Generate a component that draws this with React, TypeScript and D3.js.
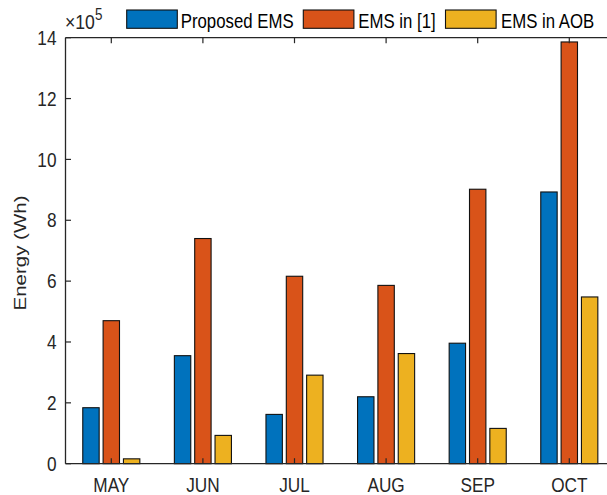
import React from "react";
import * as d3 from "d3";

const categories = ["MAY", "JUN", "JUL", "AUG", "SEP", "OCT"];
const seriesNames = ["Proposed EMS", "EMS in [1]", "EMS in AOB"];
const proposedEMS = [1.84, 3.55, 1.62, 2.2, 3.96, 8.93];
const emsRef1 = [4.7, 7.4, 6.16, 5.86, 9.02, 13.86];
const emsAOB = [0.16, 0.93, 2.91, 3.62, 1.16, 5.48];
const yTicks = [0, 2, 4, 6, 8, 10, 12, 14];
const colors = ["#0072BD", "#D95319", "#EDB120"];

const W = 607;
const H = 495;
const SX = 0.84;
const FONT = "'Liberation Sans', Arial, Helvetica, sans-serif";
const TXT = "#262626";

export default function App() {
  const series = [proposedEMS, emsRef1, emsAOB];
  const x = d3.scaleLinear().domain([0.5, 6.5]).range([65.5, 615.1]);
  const y = d3.scaleLinear().domain([0, 14]).range([463.7, 37.7]);
  const pitch = 0.222;
  const bw = 0.179;
  const left = x(0.5);
  const right = W;
  const top = y(14);
  const bottom = y(0);
  const tickLen = 5.5;

  const legendBoxX = [126.7, 303.3, 445.5];
  const legendTextX = [180.7, 358.3, 501];

  return (
    <svg
      width={W}
      height={H}
      style={{ position: "absolute", left: 0, top: 0, background: "#fff" }}
      fontFamily={FONT}
    >
      <rect x={0} y={0} width={W} height={H} fill="#fff" />
      {/* bars */}
      {series.map((vals, si) =>
        vals.map((v, ci) => {
          const cx = ci + 1 + (si - 1) * pitch;
          const x0 = x(cx - bw / 2);
          const x1 = x(cx + bw / 2);
          return (
            <rect
              key={`${si}-${ci}`}
              x={x0}
              y={y(v)}
              width={x1 - x0}
              height={y(0) - y(v)}
              fill={colors[si]}
              stroke="#111"
              strokeWidth={1.1}
            />
          );
        })
      )}
      {/* axes */}
      <line x1={left} x2={left} y1={top} y2={bottom} stroke={TXT} strokeWidth={1.3} />
      <line x1={left} x2={right} y1={bottom} y2={bottom} stroke={TXT} strokeWidth={1.3} />
      <line x1={left} x2={right} y1={top} y2={top} stroke={TXT} strokeWidth={1.3} />
      {yTicks.map((t) => (
        <g key={`yt${t}`}>
          <line x1={left} x2={left + tickLen} y1={y(t)} y2={y(t)} stroke={TXT} strokeWidth={1.2} />
          <g transform={`translate(56.5,${y(t) + 7.2}) scale(${SX},1)`}>
            <text textAnchor="end" fontSize={20.5} fill={TXT}>
              {t}
            </text>
          </g>
        </g>
      ))}
      {categories.map((c, i) => (
        <g key={`xt${c}`}>
          <line x1={x(i + 1)} x2={x(i + 1)} y1={bottom} y2={bottom - tickLen} stroke={TXT} strokeWidth={1.2} />
          <line x1={x(i + 1)} x2={x(i + 1)} y1={top} y2={top + tickLen} stroke={TXT} strokeWidth={1.2} />
          <g transform={`translate(${x(i + 1)},491.5) scale(${SX},1)`}>
            <text textAnchor="middle" fontSize={20.5} fill={TXT}>
              {c}
            </text>
          </g>
        </g>
      ))}
      {/* exponent */}
      <g transform={`translate(65,29) scale(${SX},1)`}>
        <text fontSize={21} fill={TXT}>
          ×10
          <tspan fontSize={16} dy={-9}>
            5
          </tspan>
        </text>
      </g>
      {/* y label */}
      <g transform={`translate(26,253) scale(${SX},1) rotate(-90)`}>
        <text textAnchor="middle" fontSize={20.5} fill={TXT}>
          Energy (Wh)
        </text>
      </g>
      {/* legend */}
      {seriesNames.map((n, i) => (
        <g key={`lg${i}`}>
          <rect
            x={legendBoxX[i]}
            y={10}
            width={50.6}
            height={18.3}
            fill={colors[i]}
            stroke="#111"
            strokeWidth={1.1}
          />
          <g transform={`translate(${legendTextX[i]},27.7) scale(${SX},1)`}>
            <text fontSize={20} fill="#000">
              {n}
            </text>
          </g>
        </g>
      ))}
    </svg>
  );
}
